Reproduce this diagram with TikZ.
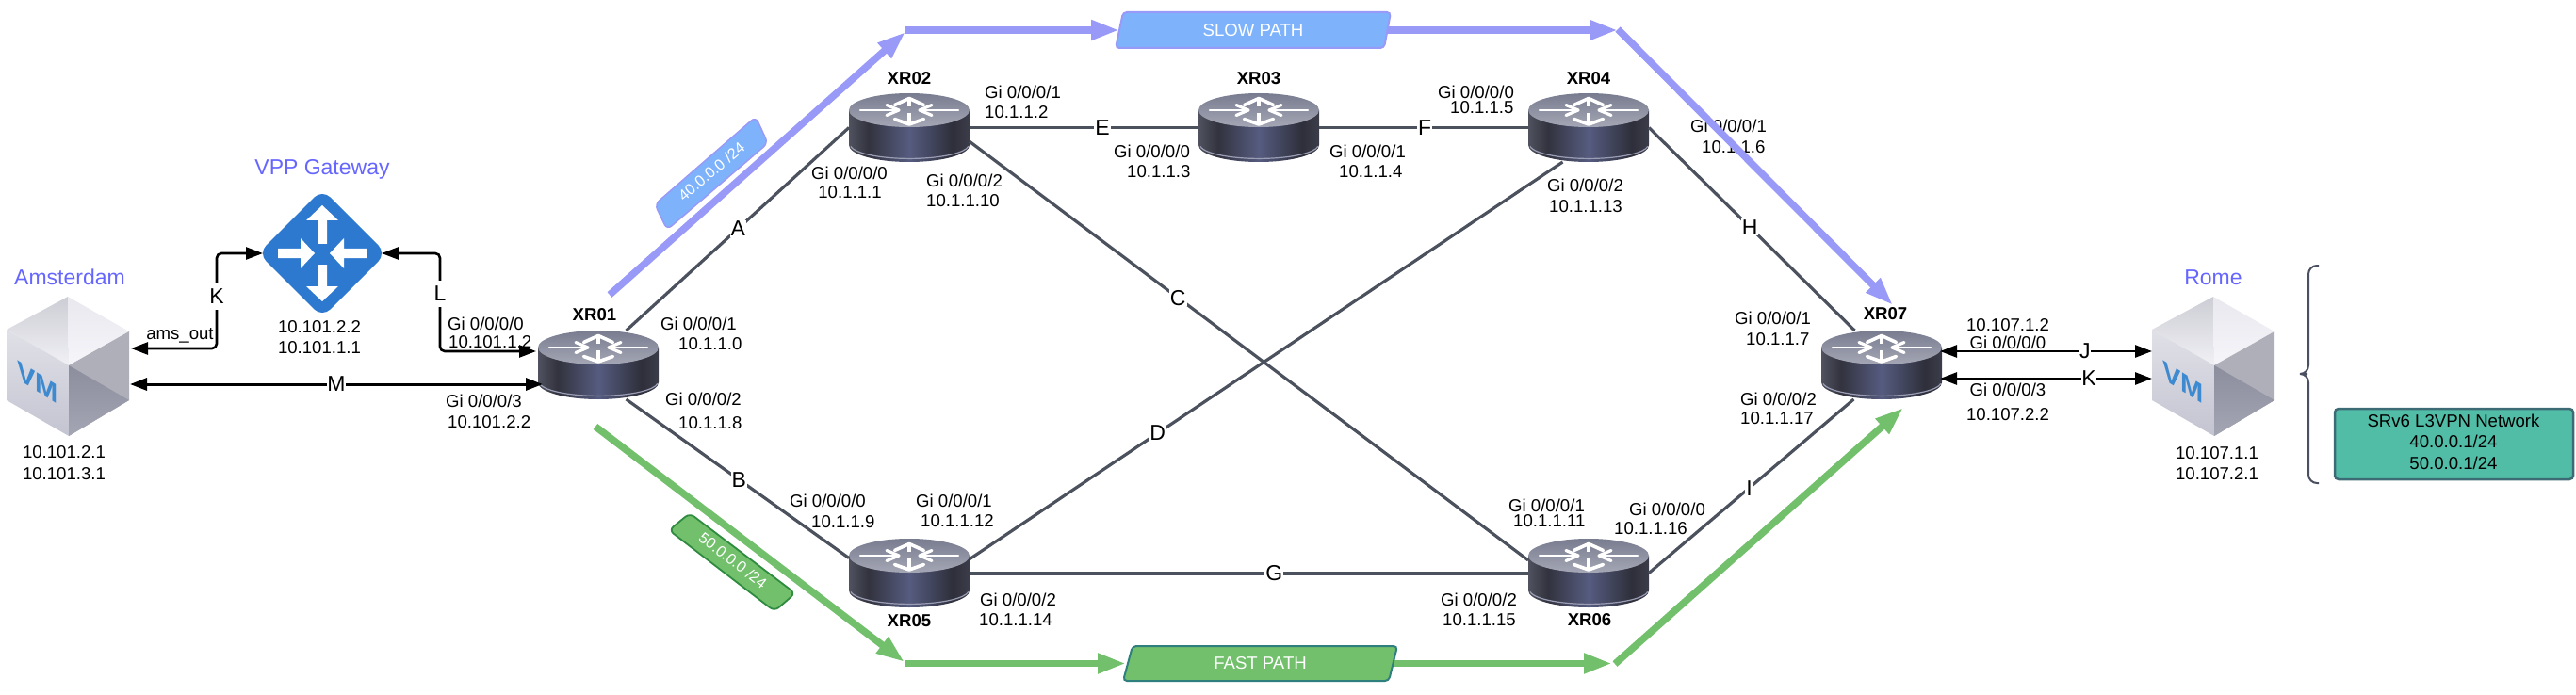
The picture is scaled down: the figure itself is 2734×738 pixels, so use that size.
\documentclass[tikz,border=0pt]{standalone}
\usepackage{fontspec}
\setmainfont{Liberation Sans}
\usetikzlibrary{arrows.meta,calc}
\definecolor{linkc}{HTML}{4B515D}
\definecolor{slowc}{HTML}{9999F7}
\definecolor{slowfill}{HTML}{7EB3FB}
\definecolor{fastc}{HTML}{72C06B}
\definecolor{fastedge}{HTML}{2F7F7F}
\definecolor{tagedge}{HTML}{2E8B3F}
\definecolor{sitec}{HTML}{6666FF}
\definecolor{gwc}{HTML}{2D79D0}
\definecolor{tealc}{HTML}{52BDA6}
\definecolor{tealedge}{HTML}{3D6B75}
\definecolor{bracec}{HTML}{4A5060}
\definecolor{vmblue}{HTML}{3D8AD0}
\definecolor{sa}{HTML}{50525F}
\definecolor{sb}{HTML}{32333E}
\definecolor{sc}{HTML}{565C80}
\definecolor{sd}{HTML}{2E2F3A}
\definecolor{se}{HTML}{3C3D4A}
\definecolor{rima}{HTML}{787C8F}
\definecolor{rimb}{HTML}{A5A7B5}
\pgfdeclarehorizontalshading{routerside}{100bp}{color(0bp)=(sa); color(25bp)=(sa); color(33bp)=(sb); color(50bp)=(sc); color(68bp)=(sd); color(75bp)=(se); color(100bp)=(se)}
\tikzset{
  x=1pt,y=-1pt,
  lab/.style={inner sep=0pt,text height=13pt,text depth=0pt,font=\fontsize{18.6}{23}\selectfont,text=black},
  labw/.style={lab,anchor=west},
  labc/.style={lab,anchor=center},
  rname/.style={lab,anchor=center,font=\fontsize{18.6}{23}\selectfont\bfseries},
  sitename/.style={inner sep=0pt,anchor=center,text=sitec,font=\fontsize{23}{27}\selectfont},
  link/.style={draw=linkc,line width=3.2pt},
  linklabel/.style={fill=white,inner sep=1pt,font=\fontsize{23}{27}\selectfont,text=black},
  slowline/.style={draw=slowc,line width=7.5pt},
  fastline/.style={draw=fastc,line width=7.5pt},
  bigtip/.style={-{Triangle[length=30pt,width=20pt]}},
  dbl/.style={draw=black,line width=2.6pt,{Triangle[length=18pt,width=13pt]}-{Triangle[length=18pt,width=13pt]}},
  hold/.style={inner sep=0pt,outer sep=0pt},
  routerbox/.style={hold,minimum width=128pt,minimum height=73pt},
  pathtext/.style={inner sep=0pt,text=white,font=\fontsize{18.6}{22}\selectfont},
  tagtext/.style={inner sep=0pt,text=white,font=\fontsize{16.3}{20}\selectfont},
  router/.pic={
    \shade[shading=routerside] (-64,18.5) arc[start angle=180,end angle=360,x radius=64pt,y radius=18pt] -- (64,-18.5) -- (-64,-18.5) -- cycle;
    \draw[color=white!40!sc,line width=1.2pt] (-62,20) arc[start angle=188,end angle=352,x radius=63pt,y radius=15pt];
    \shade[top color=rima,bottom color=rimb] (0,-18.5) ellipse[x radius=64pt,y radius=18pt];
    \begin{scope}[white,line join=round,line cap=round,shift={(0,-18.5)}]
      \draw[line width=4.6pt,line cap=butt] (0,-12) -- (0,-4);
      \draw[line width=3.6pt] (-15.5,-5.5) -- (0,-12.5) -- (15.5,-5.5);
      \draw[line width=4.6pt,line cap=butt] (0,3) -- (0,13);
      \draw[line width=3.6pt] (-15.5,9.5) -- (0,15) -- (15.5,9.5);
      \draw[line width=2.2pt] (-52,0) -- (-11,0);
      \draw[line width=3.2pt] (-24,-5.5) -- (-11,0) -- (-24,5.5);
      \draw[line width=2.2pt] (52,0) -- (11,0);
      \draw[line width=3.2pt] (24,-5.5) -- (11,0) -- (24,5.5);
    \end{scope}
  },
  vmcube/.pic={
    \shade[top color={rgb,255:red,205;green,206;blue,213},bottom color={rgb,255:red,240;green,240;blue,245}] (0,-74) -- (-65,-39) -- (1,-1) -- cycle;
    \shade[top color={rgb,255:red,232;green,232;blue,238},bottom color={rgb,255:red,245;green,245;blue,250}] (0,-74) -- (65,-37) -- (1,-1) -- cycle;
    \shade[top color={rgb,255:red,224;green,225;blue,231},bottom color={rgb,255:red,195;green,196;blue,209}] (-65,-39) -- (1,-1) -- (1,74) -- (-65,36) -- cycle;
    \fill[color={rgb,255:red,174;green,175;blue,185}] (65,-37) -- (1,-1) -- (1,74) -- (65,36) -- cycle;
    \shade[top color={rgb,255:red,140;green,141;blue,157},bottom color={rgb,255:red,165;green,166;blue,180}] (1,-1) -- (65,36) -- (1,74) -- cycle;
    \node[inner sep=0pt,text=vmblue,font=\fontsize{29}{30}\selectfont\bfseries,yslant=-0.62] (vmtext) at (-32,17) {VM};
  },
  gateway/.pic={
    \fill[gwc,rounded corners=12pt] (0,-68) -- (68,0) -- (0,68) -- (-68,0) -- cycle;
    \fill[white] (0,-51) -- (17,-35) -- (5,-35) -- (5,-10) -- (-5,-10) -- (-5,-35) -- (-17,-35) -- cycle;
    \fill[white] (0,51) -- (17,35) -- (5,35) -- (5,12) -- (-5,12) -- (-5,35) -- (-17,35) -- cycle;
    \fill[white] (-8,0) -- (-23,-16) -- (-23,-5) -- (-47,-5) -- (-47,5) -- (-23,5) -- (-23,16) -- cycle;
    \fill[white] (8,0) -- (23,-16) -- (23,-5) -- (47,-5) -- (47,5) -- (23,5) -- (23,16) -- cycle;
  },
}
\begin{document}
\begin{tikzpicture}
\useasboundingbox (0,0) rectangle (2734,738);
% holders
\node[routerbox] (XR01) at (635,387.5) {};
\node[routerbox] (XR02) at (965,135.5) {};
\node[routerbox] (XR03) at (1336,135.5) {};
\node[routerbox] (XR04) at (1686,135.5) {};
\node[routerbox] (XR05) at (965,608.5) {};
\node[routerbox] (XR06) at (1686,608.5) {};
\node[routerbox] (XR07) at (1997,387.5) {};
\node[hold,minimum width=126pt,minimum height=126pt] (gw) at (342,269) {};
\node[hold,minimum width=130pt,minimum height=148pt] (vmA) at (72,389) {};
\node[hold,minimum width=130pt,minimum height=148pt] (vmR) at (2349,389) {};
% icons
\foreach \r in {XR01,XR02,XR03,XR04,XR05,XR06,XR07} {\pic at (\r) {router};}
\pic at (gw) {gateway};
\pic at (vmA) {vmcube};
\pic at (vmR) {vmcube};
% links
\draw[link] (XR01.51.5) -- node[linklabel,pos=.502] (lA) {A} (XR02.west);
\draw[link] (XR01.-51) -- node[linklabel,pos=.506] (lB) {B} (XR05.166.6);
\draw[link] (XR02.-13) -- node[linklabel,pos=.373] (lC) {C} (XR06.168);
\draw[link] (XR05.13.6) -- node[linklabel,pos=.317] (lD) {D} (XR04.233);
\draw[link] (XR02.east) -- node[linklabel,pos=.58] (lE) {E} (XR03.west);
\draw[link] (XR03.east) -- node[linklabel,pos=.505] (lF) {F} (XR04.west);
\draw[link,line width=4pt] (XR05.east) -- node[linklabel,pos=.545] (lG) {G} (XR06.west);
\draw[link] (XR04.east) -- node[linklabel,pos=.49] (lH) {H} (XR07.128.5);
\draw[link] (XR06.east) -- node[linklabel,pos=.49] (lI) {I} (XR07.231.5);
% edge arrows
\coordinate (kA) at (139,370);
\coordinate (kB) at (230,370);
\coordinate (kC) at (230,269);
\coordinate (lC1) at (467,269);
\coordinate (lC2) at (467,373);
\coordinate (lR) at (569,373);
\coordinate (mA) at (138,408);
\coordinate (mB) at (576,408);
\coordinate (jA) at (2059,373);
\coordinate (jB) at (2284,373);
\coordinate (kkA) at (2059,402);
\coordinate (kkB) at (2284,402);
\draw[dbl,rounded corners=5pt] (kA) -- (kB) -- (kC) -- (gw.west);
\draw[dbl,rounded corners=5pt] (gw.east) -- (lC1) -- (lC2) -- (lR);
\draw[dbl,line width=3pt] (mA) -- node[linklabel,pos=.5,inner sep=0pt] (lM) {M} (mB);
\draw[dbl] (jA) -- node[linklabel,pos=.684,inner sep=0pt] (lJ) {J} (jB);
\draw[dbl] (kkA) -- node[linklabel,pos=.702,inner sep=0pt] (lKr) {K} (kkB);
\node[linklabel,inner sep=0pt,minimum height=28pt] (lK) at (230,315) {K};
\node[linklabel,inner sep=0pt,minimum height=28pt] (lL) at (467,312) {L};
% site labels
\node[sitename] (tAms) at (74,294) {Amsterdam};
\node[sitename] (tVpp) at (342,180) {VPP Gateway};
\node[sitename] (tRome) at (2349,295) {Rome};
% router names
\node[rname] (n1) at (631,334) {XR01};
\node[rname] (n2) at (965,83) {XR02};
\node[rname] (n3) at (1336,83) {XR03};
\node[rname] (n4) at (1686,83) {XR04};
\node[rname] (n5) at (965,659) {XR05};
\node[rname] (n6) at (1687,658) {XR06};
\node[rname] (n7) at (2001,333) {XR07};
% address labels
\node[labc] (a1) at (68,480) {10.101.2.1};
\node[labc] (a2) at (68,503) {10.101.3.1};
\node[labc] (a3) at (339,347) {10.101.2.2};
\node[labc] (a4) at (339,369) {10.101.1.1};
\node[labw] (a5) at (475,344) {Gi 0/0/0/0};
\node[labw] (a6) at (476,363) {10.101.1.2};
\node[labw] (a7) at (473,426) {Gi 0/0/0/3};
\node[labw] (a8) at (475,448) {10.101.2.2};
\node[labc] (a9) at (191,354) {ams\_out};
\node[labw] (b1) at (701,344) {Gi 0/0/0/1};
\node[labw] (b2) at (720,365) {10.1.1.0};
\node[labw] (b3) at (706,424) {Gi 0/0/0/2};
\node[labw] (b4) at (720,449) {10.1.1.8};
\node[labw] (c1) at (1045,98) {Gi 0/0/0/1};
\node[labw] (c2) at (1045,119) {10.1.1.2};
\node[labw] (c3) at (861,184) {Gi 0/0/0/0};
\node[labc] (c4) at (902,204) {10.1.1.1};
\node[labw] (c5) at (983,192) {Gi 0/0/0/2};
\node[labw] (c6) at (983,213) {10.1.1.10};
\node[labw] (d1) at (1182,161) {Gi 0/0/0/0};
\node[labw] (d2) at (1196,182) {10.1.1.3};
\node[labw] (d3) at (1411,161) {Gi 0/0/0/1};
\node[labw] (d4) at (1421,182) {10.1.1.4};
\node[labw] (e1) at (1526,98) {Gi 0/0/0/0};
\node[labw] (e2) at (1539,114) {10.1.1.5};
\node[labw] (e3) at (1642,197) {Gi 0/0/0/2};
\node[labw] (e4) at (1644,219) {10.1.1.13};
\node[labw] (e5) at (1794,134) {Gi 0/0/0/1};
\node[labw] (e6) at (1806,156) {10.1.1.6};
\node[labw] (f1) at (1841,338) {Gi 0/0/0/1};
\node[labw] (f2) at (1853,360) {10.1.1.7};
\node[labw] (f3) at (1847,424) {Gi 0/0/0/2};
\node[labw] (f4) at (1847,444) {10.1.1.17};
\node[labc] (g1) at (2131,345) {10.107.1.2};
\node[labc] (g2) at (2131,364) {Gi 0/0/0/0};
\node[labc] (g3) at (2131,414) {Gi 0/0/0/3};
\node[labc] (g4) at (2131,440) {10.107.2.2};
\node[labc] (g5) at (2353,481) {10.107.1.1};
\node[labc] (g6) at (2353,503) {10.107.2.1};
\node[labw] (h1) at (838,532) {Gi 0/0/0/0};
\node[labw] (h2) at (861,554) {10.1.1.9};
\node[labw] (h3) at (972,532) {Gi 0/0/0/1};
\node[labw] (h4) at (977,553) {10.1.1.12};
\node[labw] (h5) at (1040,637) {Gi 0/0/0/2};
\node[labw] (h6) at (1039,658) {10.1.1.14};
\node[labw] (i1) at (1601,537) {Gi 0/0/0/1};
\node[labw] (i2) at (1606,553) {10.1.1.11};
\node[labw] (i3) at (1729,541) {Gi 0/0/0/0};
\node[labw] (i4) at (1713,561) {10.1.1.16};
\node[labw] (i5) at (1529,637) {Gi 0/0/0/2};
\node[labw] (i6) at (1531,658) {10.1.1.15};
% slow path
\node[hold,minimum width=284pt,minimum height=38pt] (slow) at (1330,32) {};
\coordinate (s1) at (647,313);
\coordinate (s2) at (961,34);
\coordinate (s3) at (961,32);
\coordinate (s4) at (1717,32);
\coordinate (s5) at (1717,31);
\coordinate (s6) at (2009,324);
\draw[slowline,bigtip] (s1) -- (s2);
\draw[slowline,bigtip] (s3) -- (slow.west);
\draw[slowline,bigtip] (slow.east) -- (s4);
\draw[slowline,bigtip] (s5) -- (s6);
\filldraw[fill=slowfill,draw=slowc,line width=2pt,rounded corners=4pt] (1192,13) -- (1476,13) -- (1469,51) -- (1184,51) -- cycle;
\node[pathtext] (tslow) at (slow) {SLOW PATH};
% fast path
\node[hold,minimum width=285pt,minimum height=38pt] (fast) at (1337.5,704.5) {};
\coordinate (t1) at (632,453);
\coordinate (t2) at (960,703);
\coordinate (t3) at (960,704.5);
\coordinate (t4) at (1711,704.5);
\coordinate (t5) at (1714,705);
\coordinate (t6) at (2020,433);
\draw[fastline,bigtip] (t1) -- (t2);
\draw[fastline,bigtip] (t3) -- (fast.west);
\draw[fastline,bigtip] (fast.east) -- (t4);
\draw[fastline,bigtip] (t5) -- (t6);
\filldraw[fill=fastc,draw=fastedge,line width=2pt,rounded corners=4pt] (1202,686) -- (1483,686) -- (1474,723) -- (1192,723) -- cycle;
\node[pathtext] (tfast) at (fast) {FAST PATH};
% tags
\filldraw[fill=slowfill,draw=slowc,line width=1.5pt,rounded corners=6pt] (802,124) -- (815,152) -- (708,244) -- (695,217) -- cycle;
\node[tagtext,rotate=40] (t40) at (755,182) {40.0.0.0 /24};
\filldraw[fill=fastc,draw=tagedge,line width=1.8pt,rounded corners=6pt] (732,545) -- (844,630) -- (822,649) -- (710,563) -- cycle;
\node[tagtext,rotate=-38] (t50) at (778,595) {50.0.0.0 /24};
% brace
\draw[draw=bracec,line width=2pt,rounded corners=9pt] (2461,282) -- (2450,282) -- (2450,397) -- (2440,397) -- (2450,397) -- (2450,513) -- (2461,513);
% info box
\node[draw=tealedge,fill=tealc,line width=2.5pt,rounded corners=4pt,minimum width=253pt,minimum height=75pt,inner sep=0pt] (info) at (2604.5,471.5) {};
\node[labc] (j1) at (2604,447) {SRv6 L3VPN Network};
\node[labc] (j2) at (2604,469) {40.0.0.1/24};
\node[labc] (j3) at (2604,492) {50.0.0.1/24};
\end{tikzpicture}
\end{document}
